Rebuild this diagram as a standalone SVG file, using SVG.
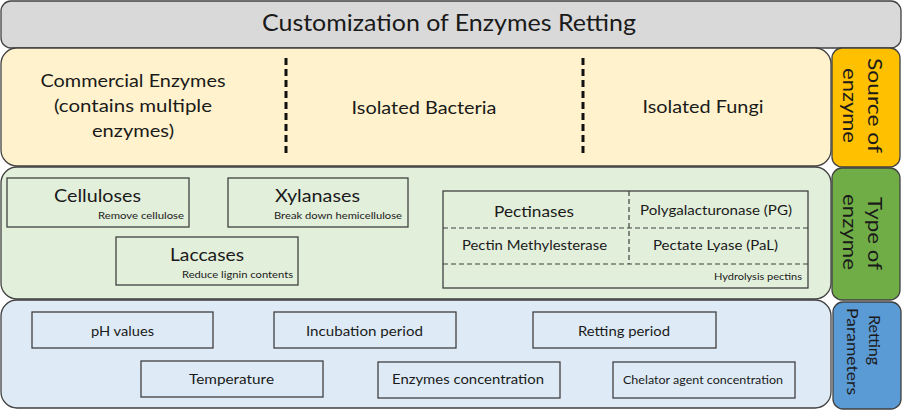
<svg xmlns="http://www.w3.org/2000/svg" width="905" height="412" viewBox="0 0 905 412">
<style>
text{font-family:Lato,"Open Sans","Liberation Sans",sans-serif;fill:#1a1a1a}
.band{stroke:#404040;stroke-width:1.3}
.box{fill:none;stroke:#404040;stroke-width:1.3}
.dash{stroke:#111;stroke-width:3;stroke-dasharray:7 4;fill:none}
.idash{stroke:#404040;stroke-width:1.2;stroke-dasharray:5 3;fill:none}
.c{text-anchor:middle}
.r{text-anchor:end}
</style>
<rect width="905" height="412" fill="#ffffff"/>
<g id="title">
<rect class="band" x="1" y="1" width="900" height="47" rx="10" fill="#d9d9d9"/>
<text class="c" x="449" y="31" font-size="23" textLength="374" lengthAdjust="spacingAndGlyphs">Customization of Enzymes Retting</text>
</g>
<g id="source-band">
<rect class="band" x="1" y="48" width="830" height="118" rx="16" fill="#fff2cc"/>
<line class="dash" x1="286" y1="58" x2="286" y2="156"/>
<line class="dash" x1="583" y1="58" x2="583" y2="156"/>
<text class="c" x="133" y="87" font-size="18" textLength="185" lengthAdjust="spacingAndGlyphs">Commercial Enzymes</text>
<text class="c" x="133" y="112" font-size="18" textLength="158" lengthAdjust="spacingAndGlyphs">(contains multiple</text>
<text class="c" x="133" y="137" font-size="18" textLength="82" lengthAdjust="spacingAndGlyphs">enzymes)</text>
<text class="c" x="424" y="114" font-size="18" textLength="145" lengthAdjust="spacingAndGlyphs">Isolated Bacteria</text>
<text class="c" x="703" y="113" font-size="18" textLength="121" lengthAdjust="spacingAndGlyphs">Isolated Fungi</text>
</g>
<g id="source-label">
<rect class="band" x="832" y="48" width="68" height="119" rx="10" fill="#ffc000"/>
<text class="c" transform="translate(868,105.5) rotate(90)" font-size="20" textLength="95" lengthAdjust="spacingAndGlyphs">Source of</text>
<text class="c" transform="translate(843,105.5) rotate(90)" font-size="20" textLength="75" lengthAdjust="spacingAndGlyphs">enzyme</text>
</g>
<g id="type-band">
<rect class="band" x="1" y="167" width="830" height="132" rx="16" fill="#e2efda"/>
</g>
<g id="celluloses">
<rect class="box" x="7" y="178" width="182" height="49"/>
<text class="c" x="97.5" y="202" font-size="18" textLength="87" lengthAdjust="spacingAndGlyphs">Celluloses</text>
<text class="r" x="184" y="219" font-size="10" textLength="86" lengthAdjust="spacingAndGlyphs">Remove cellulose</text>
</g>
<g id="xylanases">
<rect class="box" x="228" y="178" width="180" height="49"/>
<text class="c" x="317.5" y="202" font-size="18" textLength="85" lengthAdjust="spacingAndGlyphs">Xylanases</text>
<text class="r" x="402" y="219" font-size="10" textLength="128" lengthAdjust="spacingAndGlyphs">Break down hemicellulose</text>
</g>
<g id="laccases">
<rect class="box" x="116" y="237" width="182" height="48"/>
<text class="c" x="207" y="261" font-size="18" textLength="74" lengthAdjust="spacingAndGlyphs">Laccases</text>
<text class="r" x="293" y="278" font-size="10" textLength="111" lengthAdjust="spacingAndGlyphs">Reduce lignin contents</text>
</g>
<g id="pectinases">
<rect class="box" x="443" y="191" width="365" height="97"/>
<line class="idash" x1="629" y1="191" x2="629" y2="264"/>
<line class="idash" x1="443" y1="228" x2="808" y2="228"/>
<line class="idash" x1="443" y1="264" x2="808" y2="264"/>
<text class="c" x="534" y="217" font-size="16" textLength="80" lengthAdjust="spacingAndGlyphs">Pectinases</text>
<text class="c" x="716" y="215" font-size="13" textLength="152" lengthAdjust="spacingAndGlyphs">Polygalacturonase (PG)</text>
<text class="c" x="534.5" y="250" font-size="13" textLength="145" lengthAdjust="spacingAndGlyphs">Pectin Methylesterase</text>
<text class="c" x="715.5" y="250" font-size="13" textLength="125" lengthAdjust="spacingAndGlyphs">Pectate Lyase (PaL)</text>
<text class="r" x="802" y="280" font-size="9.5" textLength="88" lengthAdjust="spacingAndGlyphs">Hydrolysis pectins</text>
</g>
<g id="type-label">
<rect class="band" x="832" y="168" width="68" height="132" rx="10" fill="#70ad47"/>
<text class="c" transform="translate(868,233.5) rotate(90)" font-size="20" textLength="73" lengthAdjust="spacingAndGlyphs">Type of</text>
<text class="c" transform="translate(843,232) rotate(90)" font-size="20" textLength="76" lengthAdjust="spacingAndGlyphs">enzyme</text>
</g>
<g id="param-band">
<rect class="band" x="1" y="300" width="830" height="108" rx="16" fill="#deebf7"/>
</g>
<g id="ph">
<rect class="box" x="32" y="312" width="181" height="36"/>
<text class="c" x="122.5" y="336" font-size="14" textLength="63" lengthAdjust="spacingAndGlyphs">pH values</text>
</g>
<g id="incubation">
<rect class="box" x="274" y="312" width="182" height="36"/>
<text class="c" x="364.5" y="336" font-size="14" textLength="117" lengthAdjust="spacingAndGlyphs">Incubation period</text>
</g>
<g id="retting-period">
<rect class="box" x="533" y="312" width="183" height="36"/>
<text class="c" x="624" y="336" font-size="14" textLength="92" lengthAdjust="spacingAndGlyphs">Retting period</text>
</g>
<g id="temperature">
<rect class="box" x="141" y="361" width="182" height="36"/>
<text class="c" x="231.5" y="384" font-size="14" textLength="85" lengthAdjust="spacingAndGlyphs">Temperature</text>
</g>
<g id="enzyme-conc">
<rect class="box" x="378" y="362" width="182" height="36"/>
<text class="c" x="468" y="384" font-size="14" textLength="152" lengthAdjust="spacingAndGlyphs">Enzymes concentration</text>
</g>
<g id="chelator">
<rect class="box" x="613" y="362" width="182" height="36"/>
<text class="c" x="703" y="384" font-size="11.5" textLength="160" lengthAdjust="spacingAndGlyphs">Chelator agent concentration</text>
</g>
<g id="param-label">
<rect class="band" x="833" y="302" width="68" height="107" rx="10" fill="#5b9bd5"/>
<text class="c" transform="translate(869,340) rotate(90)" font-size="15" textLength="50" lengthAdjust="spacingAndGlyphs">Retting</text>
<text class="c" transform="translate(847,351.5) rotate(90)" font-size="15" textLength="87" lengthAdjust="spacingAndGlyphs">Parameters</text>
</g>
<g id="connectors"></g>
</svg>
